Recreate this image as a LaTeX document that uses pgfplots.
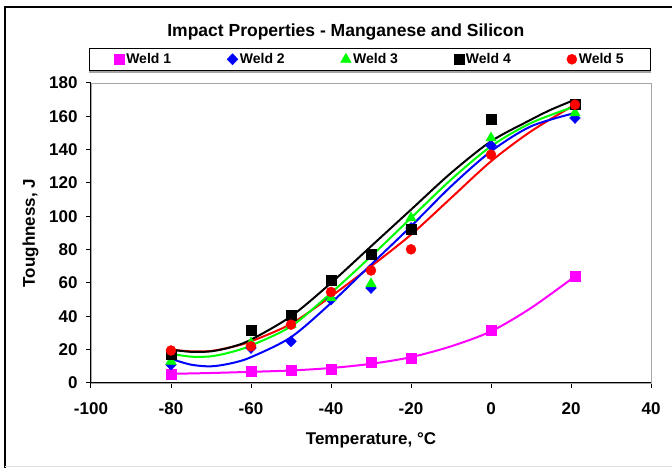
\documentclass[border=0pt]{standalone}
\usepackage{pgfplots}
\pgfplotsset{compat=1.18}
\usepackage{fontspec}
\setmainfont{Liberation Sans}
\usetikzlibrary{shadows}

\definecolor{wmag}{RGB}{255,0,255}
\definecolor{wblue}{RGB}{0,0,255}
\definecolor{wgreen}{RGB}{0,255,0}
\definecolor{wred}{RGB}{255,0,0}
\newcommand{\lbl}{\bfseries\fontsize{17}{20}\selectfont}

\begin{document}
\begin{tikzpicture}[x=1pt,y=1pt]
\useasboundingbox (0,0) rectangle (672,468);
% chart frame
\draw[line width=2.5pt] (5,0) -- (5,461) -- (672,461);
\draw[gray!25, line width=1pt] (5,1.5) -- (672,1.5);
\begin{axis}[
    at={(91pt,85pt)}, anchor=south west,
    width=560pt, height=300pt, scale only axis,
    xmin=-100, xmax=40, ymin=0, ymax=180,
    xtick={-100,-80,...,40}, ytick={0,20,...,180},
    xtick pos=left, ytick pos=left,
    tick align=outside, major tick length=5pt,
    tick style={black, line width=1pt},
    axis line style={gray!70, line width=0.6pt},
    /pgf/number format/assume math mode=true,
    tick label style={font=\lbl},
    xticklabel style={yshift=-11pt},
    yticklabel style={xshift=-5pt},
    xlabel={Temperature, °C},
    ylabel={Toughness, J},
    xlabel style={font=\lbl, at={(axis description cs:0.5,-0.19)}, anchor=center},
    ylabel style={font=\lbl, at={(axis description cs:-0.108,0.5)}, anchor=center},
    title={Impact Properties - Manganese and Silicon},
    title style={font=\bfseries\fontsize{17.5}{20}\selectfont, at={(axis description cs:0.455,1)}, anchor=base, yshift=40pt},
    legend columns=5,
    legend style={at={(0.5,1)}, anchor=south, xshift=-1pt, yshift=12pt, draw=black, line width=0.8pt,
        font=\bfseries\fontsize{14}{16}\selectfont, inner xsep=25pt, inner ysep=3.5pt,
        drop shadow={shadow xshift=0pt, shadow yshift=-2pt, fill=gray!70, opacity=1},
        fill=white,
        /tikz/every even column/.append style={column sep=54pt}},
    legend image code/.code={\draw[#1, line width=0.5pt] plot coordinates {(0pt,0pt)};},
    after end axis/.code={\draw[black, line width=1pt] (rel axis cs:0,1) -- (rel axis cs:0,0) -- (rel axis cs:1,0);},
]

% measured points
\addplot[only marks, mark=square*, mark size=5pt, color=wmag] coordinates {
    (-80,5.5) (-60,7) (-50,7.5) (-40,8) (-30,12.5) (-20,14.6) (0,31.5) (21,64)};
\addlegendentry{Weld 1}
\addplot[only marks, mark=diamond*, mark size=5.5pt, mark options={xscale=1.3}, color=wblue] coordinates {
    (-80,11) (-60,21) (-50,25) (-40,50) (-30,57) (-20,93) (0,142.5) (21,159)};
\addlegendentry{Weld 2}
\addplot[only marks, mark=triangle*, mark size=6pt, color=wgreen] coordinates {
    (-80,13) (-60,24) (-50,35) (-40,51) (-30,59.5) (-20,99) (0,147) (21,162)};
\addlegendentry{Weld 3}
\addplot[only marks, mark=square*, mark size=5pt, color=black] coordinates {
    (-80,17.5) (-60,31.6) (-50,40.6) (-40,61.6) (-30,77) (-20,92) (0,158) (21,167)};
\addlegendentry{Weld 4}
\addplot[only marks, mark=*, mark size=5pt, color=wred] coordinates {
    (-80,19.5) (-60,22) (-50,35) (-40,54.6) (-30,67.5) (-20,80.2) (0,137) (21,167)};
\addlegendentry{Weld 5}

% trend lines
\addplot[smooth, wmag, line width=2pt, forget plot] coordinates {
    (-80,5.5) (-70,6) (-60,6.7) (-50,7.5) (-40,9) (-30,11.5) (-20,15.5) (-10,22) (0,31) (10,45) (21,64)};
\addplot[smooth, wred, line width=2pt, forget plot] coordinates {
    (-80,20) (-75,19) (-70,19.2) (-65,21.5) (-60,25) (-50,35.5) (-40,52) (-30,70) (-20,89) (-10,111) (0,133) (10,151) (21,167)};
\addplot[smooth, wblue, line width=2pt, forget plot] coordinates {
    (-80,14.5) (-75,11) (-70,10) (-65,11.8) (-60,15.5) (-50,27.5) (-40,48) (-30,71) (-20,94) (-10,118) (0,139) (10,154) (21,162)};
\addplot[smooth, wgreen, line width=2pt, forget plot] coordinates {
    (-80,17.5) (-75,15.8) (-70,16) (-65,18.5) (-60,22.5) (-50,34) (-40,54) (-30,76) (-20,99) (-10,122) (0,142) (10,156) (21,166)};
\addplot[smooth, black, line width=2pt, forget plot] coordinates {
    (-80,20) (-75,18.7) (-70,19) (-65,21.5) (-60,26) (-50,40) (-40,60) (-30,82) (-20,104) (-10,126) (0,145) (10,158) (15,164) (21,170)};

\end{axis}
\end{tikzpicture}
\end{document}
